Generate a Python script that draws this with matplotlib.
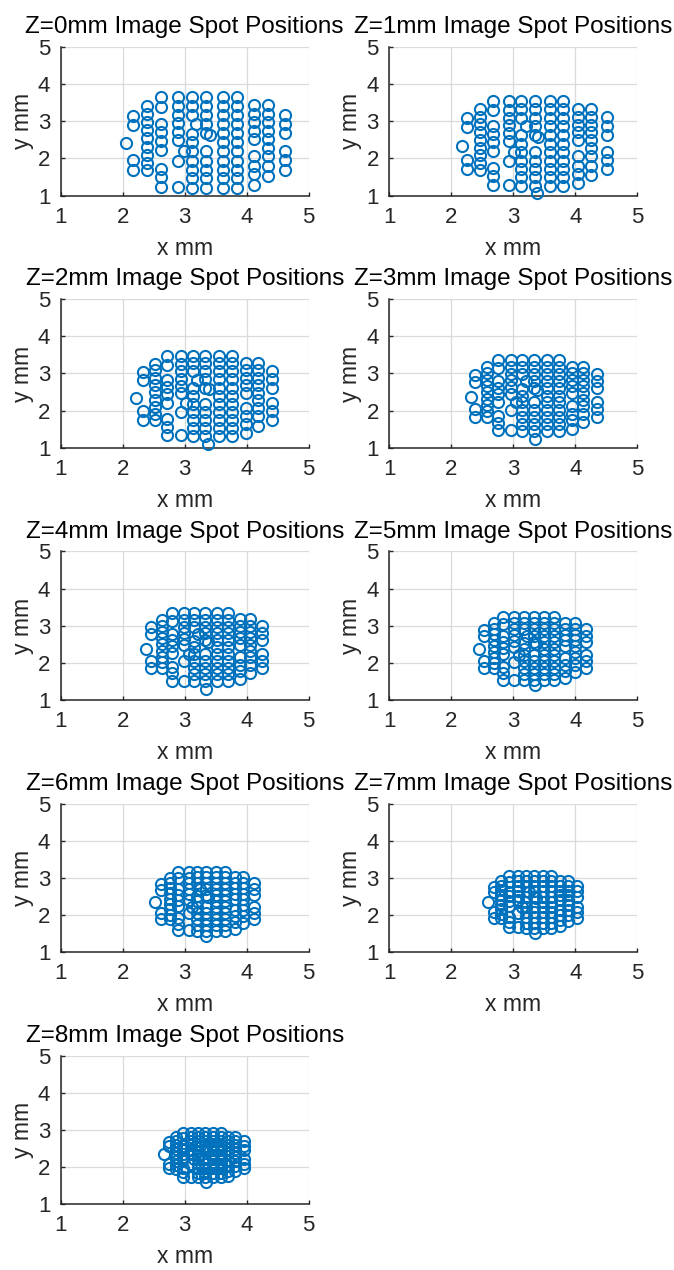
import numpy as np
import matplotlib
matplotlib.use('Agg')
import matplotlib.pyplot as plt

plt.rcParams['font.family'] = ['Liberation Sans', 'DejaVu Sans']

# ---- data -------------------------------------------------------------
z_mm = [0, 1, 2, 3, 4, 5, 6, 7, 8]

# Z=0 spot pattern read column by column (x in mm, list of y in mm)
base_col_x = [2.16, 2.39, 2.62, 2.89, 2.99, 3.11, 3.19, 3.35, 3.41,
              3.61, 3.85, 4.11, 4.34, 4.61]
base_col_y = [
    [3.15, 2.90, 1.95, 1.69],
    [3.41, 3.20, 2.98, 2.76, 2.54, 2.31, 2.09, 1.88, 1.68],
    [3.65, 3.38, 2.92, 2.70, 2.47, 2.22, 1.72, 1.49, 1.23],
    [3.65, 3.40, 3.17, 2.95, 2.72, 2.50, 1.93, 1.23],
    [2.20],
    [3.65, 3.42, 3.17, 2.66, 2.43, 2.19, 1.94, 1.70, 1.46, 1.21],
    [2.92],
    [3.65, 3.42, 3.17, 2.93, 2.68, 2.19, 1.94, 1.70, 1.46, 1.21],
    [2.62],
    [3.65, 3.42, 3.17, 2.93, 2.68, 2.43, 2.19, 1.94, 1.70, 1.46, 1.21],
    [3.65, 3.42, 3.17, 2.93, 2.68, 2.43, 2.19, 1.94, 1.70, 1.46, 1.21],
    [3.43, 3.20, 2.97, 2.75, 2.52, 2.07, 1.80, 1.57, 1.29],
    [3.43, 3.20, 2.97, 2.75, 2.52, 2.29, 2.07, 1.80, 1.52],
    [3.18, 2.93, 2.68, 2.20, 1.95, 1.69],
]
base_center = (3.385, 2.43)

# per-panel extent of the pattern
center_x = [3.385, 3.38, 3.365, 3.365, 3.355, 3.35, 3.365, 3.355, 3.35]
scale_x = [1.00, 0.92, 0.853, 0.80, 0.73, 0.67, 0.61, 0.55, 0.49]
center_y = [2.43, 2.40, 2.40, 2.405, 2.42, 2.38, 2.37, 2.35, 2.33]
scale_y = [1.00, 0.94, 0.885, 0.78, 0.75, 0.70, 0.65, 0.57, 0.49]

# isolated left spot and lowest centre spot in each panel
outlier_x = [2.05, 2.17, 2.21, 2.32, 2.37, 2.44, 2.52, 2.59, 2.66]
outlier_y = [2.41, 2.34, 2.34, 2.36, 2.37, 2.37, 2.36, 2.36, 2.36]
lowest_x = [np.nan, 3.38, 3.38, 3.35, 3.35, 3.35, 3.35, 3.35, 3.35]
lowest_y = [np.nan, 1.07, 1.11, 1.23, 1.30, 1.41, 1.44, 1.52, 1.60]

ticks = [1, 2, 3, 4, 5]

# ---- figure -----------------------------------------------------------
W, H = 674, 1270
fig = plt.figure(figsize=(W / 100, H / 100), dpi=100)
blue = '#0072BD'

bx = np.concatenate([[x] * len(ys) for x, ys in zip(base_col_x, base_col_y)])
by = np.concatenate(base_col_y)

left_px = [60.7, 389.3]
width_px = 248.0
height_px = 148.5
for i, z in enumerate(z_mm):
    r, c = divmod(i, 2)
    top = 47 + 252.2 * r
    ax = fig.add_axes([left_px[c] / W, 1 - (top + height_px) / H,
                       width_px / W, height_px / H])
    px = center_x[i] + scale_x[i] * (bx - base_center[0])
    py = center_y[i] + scale_y[i] * (by - base_center[1])
    px = np.append(px, [outlier_x[i], lowest_x[i]])
    py = np.append(py, [outlier_y[i], lowest_y[i]])
    ax.plot(px, py, 'o', ls='none', ms=8.0, mfc='none', mec=blue,
            mew=1.5, clip_on=False, zorder=3)
    ax.set_xlim(1, 5)
    ax.set_ylim(1, 5)
    ax.set_xticks(ticks)
    ax.set_yticks(ticks)
    ax.grid(True, color='#dadada', lw=0.9)
    ax.set_axisbelow(True)
    for s in ['top', 'right']:
        ax.spines[s].set_visible(False)
    for s in ['left', 'bottom']:
        ax.spines[s].set_color('#262626')
        ax.spines[s].set_linewidth(1.1)
    ax.tick_params(direction='in', length=3, width=1, color='#262626',
                   labelsize=16, labelcolor='#262626')
    ax.tick_params(axis='x', pad=8)
    ax.tick_params(axis='y', pad=7.5)
    ax.set_title(f'Z={z}mm Image Spot Positions', fontsize=17.5,
                 color='#000000', pad=10)
    ax.set_xlabel('x mm', fontsize=16.5, color='#262626', labelpad=6.5)
    ax.set_ylabel('y mm', fontsize=16.5, color='#262626', labelpad=3)

fig.savefig('out.png', dpi=100)
